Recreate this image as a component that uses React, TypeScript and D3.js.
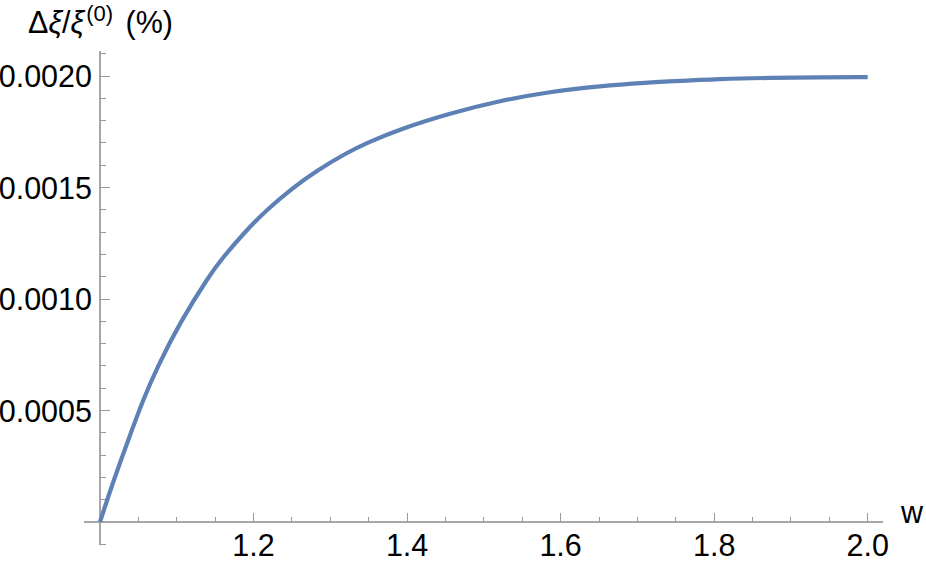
import { useEffect, useRef } from "react";
import * as d3 from "d3";

// values (w, Δξ/ξ⁽⁰⁾ in %)
const wValues = [
  1.0, 1.015, 1.037, 1.056, 1.074, 1.104, 1.143, 1.158, 1.191, 1.217, 1.25,
  1.282, 1.321, 1.347, 1.391, 1.456, 1.521, 1.586, 1.651, 1.716, 1.742, 1.808,
  1.873, 1.938, 2.0,
];
const ratioValues = [
  0, 0.00016, 0.00037, 0.000547, 0.00069, 0.000895, 0.001108, 0.001178,
  0.00131, 0.001399, 0.001496, 0.001575, 0.001655, 0.001699, 0.001762,
  0.001833, 0.001889, 0.00193, 0.001955, 0.001971, 0.001976, 0.001987,
  0.001992, 0.001994, 0.001995,
];

const xMajorTicks = [1.2, 1.4, 1.6, 1.8, 2.0];
const xMinorTicks = [
  1.05, 1.1, 1.15, 1.25, 1.3, 1.35, 1.45, 1.5, 1.55, 1.65, 1.7, 1.75, 1.85,
  1.9, 1.95,
];
const yMajorTicks = [0.0005, 0.001, 0.0015, 0.002];
const yMinorTicks = [
  -0.0001, 0.0001, 0.0002, 0.0003, 0.0004, 0.0006, 0.0007, 0.0008, 0.0009,
  0.0011, 0.0012, 0.0013, 0.0014, 0.0016, 0.0017, 0.0018, 0.0019, 0.0021,
];

const WIDTH = 926;
const HEIGHT = 565;
const LINE_COLOR = "#5e81b5";
const AXIS_COLOR = "#a6a6a6";
const TICK_COLOR = "#9a9a9a";
const TEXT_FILL = "#000";
const FONT = "'Liberation Sans', Arial, sans-serif";
const FONT_SIZE = 30.5;

export default function App() {
  const ref = useRef<SVGSVGElement | null>(null);

  useEffect(() => {
    const el = ref.current;
    if (!el) return;
    const svg = d3.select(el);
    svg.selectAll("*").remove();

    const x = d3.scaleLinear().domain([1, 2]).range([100, 867.7]);
    const y = d3.scaleLinear().domain([0, 0.002]).range([522, 76]);

    const axes = svg.append("g").attr("shape-rendering", "crispEdges");

    // axis lines
    axes
      .append("line")
      .attr("x1", x(0.979))
      .attr("x2", x(2.02))
      .attr("y1", y(0))
      .attr("y2", y(0))
      .attr("stroke", AXIS_COLOR)
      .attr("stroke-width", 1.2);
    axes
      .append("line")
      .attr("x1", x(1))
      .attr("x2", x(1))
      .attr("y1", y(0.00211))
      .attr("y2", y(-0.000105))
      .attr("stroke", AXIS_COLOR)
      .attr("stroke-width", 1.2);

    // x ticks point up, y ticks point right
    axes
      .selectAll(".xmaj")
      .data(xMajorTicks)
      .join("line")
      .attr("x1", (d) => x(d))
      .attr("x2", (d) => x(d))
      .attr("y1", y(0))
      .attr("y2", y(0) - 9.5)
      .attr("stroke", TICK_COLOR);
    axes
      .selectAll(".xmin")
      .data(xMinorTicks)
      .join("line")
      .attr("x1", (d) => x(d))
      .attr("x2", (d) => x(d))
      .attr("y1", y(0))
      .attr("y2", y(0) - 5.5)
      .attr("stroke", TICK_COLOR);
    axes
      .selectAll(".ymaj")
      .data(yMajorTicks)
      .join("line")
      .attr("x1", x(1))
      .attr("x2", x(1) + 9.5)
      .attr("y1", (d) => y(d))
      .attr("y2", (d) => y(d))
      .attr("stroke", TICK_COLOR);
    axes
      .selectAll(".ymin")
      .data(yMinorTicks)
      .join("line")
      .attr("x1", x(1))
      .attr("x2", x(1) + 5.5)
      .attr("y1", (d) => y(d))
      .attr("y2", (d) => y(d))
      .attr("stroke", TICK_COLOR);

    // tick labels
    const labels = svg
      .append("g")
      .attr("font-family", FONT)
      .attr("font-size", FONT_SIZE)
      .attr("fill", TEXT_FILL);
    labels
      .selectAll(".xl")
      .data(xMajorTicks)
      .join("text")
      .attr("x", (d) => x(d))
      .attr("y", 556)
      .attr("text-anchor", "middle")
      .text((d) => d3.format(".1f")(d));
    labels
      .selectAll(".yl")
      .data(yMajorTicks)
      .join("text")
      .attr("x", x(1) - 8)
      .attr("y", (d) => y(d) + 11)
      .attr("text-anchor", "end")
      .text((d) => d3.format(".4f")(d));

    // axis titles
    labels.append("text").attr("x", 901).attr("y", 523).text("w");
    const title = labels.append("text").attr("x", 28).attr("y", 33);
    title.append("tspan").text("Δ");
    title.append("tspan").attr("font-style", "italic").text("ξ");
    title.append("tspan").text("/");
    title.append("tspan").attr("font-style", "italic").text("ξ");
    title
      .append("tspan")
      .attr("font-size", 22)
      .attr("dx", 2)
      .attr("dy", -12)
      .text("(0)");
    title.append("tspan").attr("dx", 4).attr("dy", 12).text(" (%)");

    // curve
    const line = d3
      .line<number>()
      .x((d) => x(d))
      .y((_, i) => y(ratioValues[i]))
      .curve(d3.curveBasis);
    svg
      .append("path")
      .datum(wValues)
      .attr("d", line)
      .attr("fill", "none")
      .attr("stroke", LINE_COLOR)
      .attr("stroke-width", 4.2)
      .attr("stroke-linejoin", "round");
  }, []);

  return (
    <svg
      ref={ref}
      width={WIDTH}
      height={HEIGHT}
      style={{ position: "absolute", left: 0, top: 0, background: "#fff" }}
    />
  );
}
